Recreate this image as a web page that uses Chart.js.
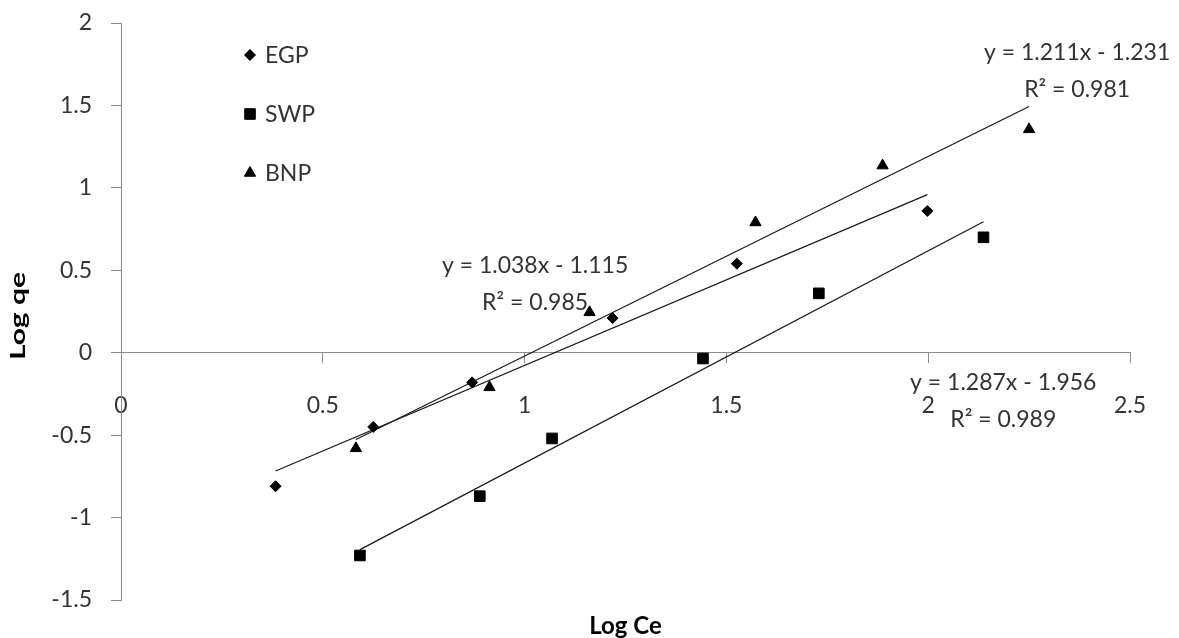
<!DOCTYPE html>
<html lang="en">
<head>
  <meta charset="UTF-8">
  <title>Log qe vs Log Ce</title>
  <script src="https://cdn.jsdelivr.net/npm/chart.js"></script>
  <style>
    html, body { margin: 0; padding: 0; background: #fff; }
    .wrap { width: 1179px; height: 638px; position: relative; }
  </style>
</head>
<body>
  <div class="wrap"><canvas id="isotherm"></canvas></div>

  <script>
    // measured points (log Ce, log qe) for each sorbent
    const seriesNames = ['EGP', 'SWP', 'BNP'];
    const egpX = [0.383, 0.625, 0.870, 1.218, 1.526, 1.998];
    const egpY = [-0.81, -0.45, -0.18, 0.21, 0.54, 0.86];
    const swpX = [0.592, 0.889, 1.068, 1.442, 1.729, 2.137];
    const swpY = [-1.23, -0.87, -0.52, -0.035, 0.36, 0.70];
    const bnpX = [0.582, 0.913, 1.161, 1.572, 1.887, 2.250];
    const bnpY = [-0.58, -0.21, 0.245, 0.79, 1.135, 1.355];

    // linear fits y = slope * x + intercept
    const slopes = [1.038, 1.287, 1.211];
    const intercepts = [-1.115, -1.956, -1.231];
    const rSquared = [0.985, 0.989, 0.981];

    const xTicks = [0, 0.5, 1, 1.5, 2, 2.5];
    const yTicks = [-1.5, -1, -0.5, 0, 0.5, 1, 1.5, 2];

    const xs = [egpX, swpX, bnpX];
    const ys = [egpY, swpY, bnpY];

    const textColor = '#333333';
    const axisColor = '#8c8c8c';
    const markers = [
      { style: 'rectRot', radius: 5.5 },
      { style: 'rect', radius: 7.5 },
      { style: 'triangle', radius: 6.5 }
    ];
    // where each fit equation sits, in axis units (centre of first line)
    const eqAnchors = [
      { x: 1.026, y: 0.529 },
      { x: 2.186, y: -0.182 },
      { x: 2.369, y: 1.823 }
    ];

    const pointSets = seriesNames.map((name, i) => ({
      label: name,
      data: xs[i].map((v, j) => ({ x: v, y: ys[i][j] })),
      pointStyle: markers[i].style,
      pointRadius: markers[i].radius,
      pointBackgroundColor: '#000',
      pointBorderColor: '#000',
      pointBorderWidth: 1,
      showLine: false
    }));

    const fitSets = seriesNames.map((name, i) => {
      const lo = Math.min(...xs[i]);
      const hi = Math.max(...xs[i]);
      return {
        label: name + ' fit',
        data: [lo, hi].map(v => ({ x: v, y: slopes[i] * v + intercepts[i] })),
        showLine: true,
        borderColor: '#1a1a1a',
        borderWidth: 1.3,
        pointRadius: 0,
        fill: false
      };
    });

    function eqText(i) {
      const sign = intercepts[i] < 0 ? ' - ' : ' + ';
      return 'y = ' + slopes[i].toFixed(3) + 'x' + sign + Math.abs(intercepts[i]).toFixed(3);
    }

    // equations, legend and axis titles
    const overlay = {
      id: 'overlay',
      afterDatasetsDraw(chart) {
        const { ctx, scales: { x, y }, chartArea } = chart;
        ctx.save();
        ctx.fillStyle = textColor;
        ctx.textAlign = 'center';
        ctx.textBaseline = 'middle';
        ctx.font = '23px Lato';
        eqAnchors.forEach((a, i) => {
          const px = x.getPixelForValue(a.x);
          const py = y.getPixelForValue(a.y);
          ctx.fillText(eqText(i), px, py);
          ctx.fillText('R\u00B2 = ' + rSquared[i].toFixed(3), px, py + 37);
        });

        // legend
        ctx.textAlign = 'left';
        seriesNames.forEach((name, i) => {
          const ly = 55 + i * 59;
          ctx.fillStyle = '#000';
          ctx.strokeStyle = '#000';
          ctx.lineWidth = 1;
          Chart.helpers.drawPoint(ctx, {
            pointStyle: markers[i].style,
            radius: markers[i].radius,
            rotation: 0,
            borderWidth: 1
          }, 250, ly);
          ctx.fillStyle = textColor;
          ctx.fillText(name, 265, ly + 1);
        });

        // axis titles
        ctx.fillStyle = '#000';
        ctx.textAlign = 'center';
        ctx.font = 'bold 24px Lato';
        ctx.fillText('Log Ce', (chartArea.left + chartArea.right) / 2, 626);

        ctx.translate(19, 316);
        ctx.rotate(-Math.PI / 2);
        ctx.scale(1.5, 1);
        ctx.font = 'bold 20px Lato';
        ctx.fillText('Log qe', 0, 0);
        ctx.restore();
      }
    };

    const ctx = document.getElementById('isotherm').getContext('2d');
    new Chart(ctx, {
      type: 'scatter',
      data: { datasets: pointSets.concat(fitSets) },
      plugins: [overlay],
      options: {
        responsive: true,
        maintainAspectRatio: false,
        animation: false,
        layout: { padding: { left: 0, right: 49, top: 23, bottom: 38 } },
        plugins: {
          legend: { display: false },
          tooltip: { enabled: false }
        },
        scales: {
          x: {
            type: 'linear',
            position: { y: 0 },
            min: 0,
            max: 2.5,
            afterBuildTicks: s => { s.ticks = xTicks.map(v => ({ value: v })); },
            ticks: {
              callback: v => String(v),
              color: textColor,
              font: { family: 'Lato', size: 23 },
              padding: 29,
              maxRotation: 0,
              autoSkip: false
            },
            grid: { drawOnChartArea: false, drawTicks: true, tickLength: 10, color: axisColor },
            border: { display: true, color: axisColor, width: 1 }
          },
          y: {
            type: 'linear',
            position: 'left',
            min: -1.5,
            max: 2,
            afterBuildTicks: s => { s.ticks = yTicks.map(v => ({ value: v })); },
            afterFit: s => {
              // fixed axis width; the label gap should not push the plot down
              s.width = 121;
              s.paddingTop = 14;
              s.paddingBottom = 14;
            },
            ticks: {
              callback: v => String(v),
              color: textColor,
              font: { family: 'Lato', size: 23 },
              padding: 19,
              autoSkip: false
            },
            grid: { drawOnChartArea: false, drawTicks: true, tickLength: 10, color: axisColor },
            border: { display: true, color: axisColor, width: 1 }
          }
        }
      }
    });
  </script>
</body>
</html>
